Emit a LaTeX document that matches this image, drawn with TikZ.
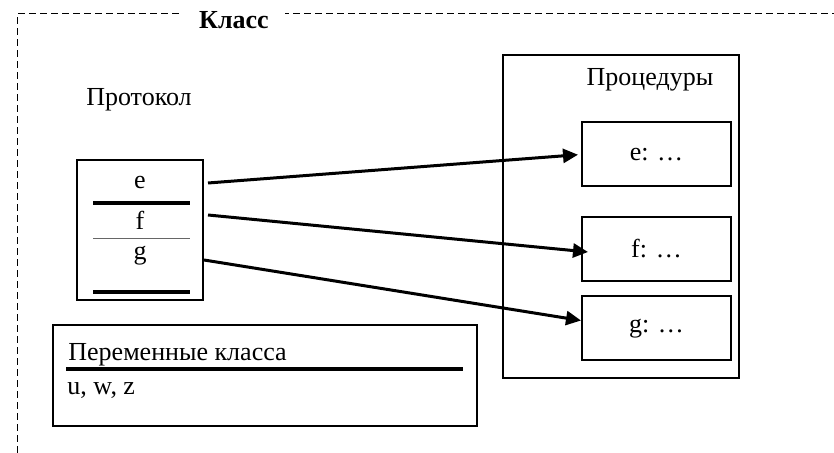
\documentclass[tikz,border=0pt]{standalone}
\usepackage{fontspec}
\setmainfont{Liberation Serif}
\usepackage{tikz}
\usetikzlibrary{positioning,calc,arrows.meta}

\begin{document}
\fontsize{13}{15.6}\selectfont
\begin{tikzpicture}[x=0.5pt,y=-0.5pt,
  box/.style={draw,line width=1pt,rectangle,inner sep=0pt},
  procbox/.style={box,minimum width=74.5pt,minimum height=32pt},
  thickbar/.style={line width=2pt},
  thinbar/.style={line width=0.4pt,black!60},
  link/.style={-{Triangle[length=7.5pt,width=7pt]},line width=1.5pt}]
\useasboundingbox (0,0) rectangle (834,453);
% dashed frame of the class, only top and left side visible
\draw[line width=0.5pt,dash pattern=on 3.5pt off 2pt] (17,453) -- (17,14) -- (834,14);
\node[fill=white,inner xsep=8pt,inner ysep=1pt,font=\bfseries] (cls) at (234,20) {Класс};
% protocol
\node (ptitle) at (139,100) {Протокол};
\node[box,minimum width=63pt,minimum height=70pt] (proto) at (140,230) {};
\node (le) at (140,183) {e};
\node (lf) at (140,220) {f};
\node (lg) at (140,256) {g};
\draw[thickbar] (93,203) -- (190,203);
\draw[thinbar] (93,238) -- (190,238);
\draw[thickbar] (93,292) -- (190,292);
% procedures
\node[box,minimum width=118pt,minimum height=161.5pt] (procs) at (621,216.5) {};
\node (qtitle) at (650,80) {Процедуры};
\node[procbox] (pe) at (656.5,154.5) {e: \dots};
\node[procbox] (pf) at (656.5,249) {f: \dots};
\node[procbox] (pg) at (656.5,328.5) {g: \dots};
% class variables
\node[box,minimum width=212pt,minimum height=50.5pt] (vars) at (265,375.5) {};
\node[anchor=west,inner sep=0pt] (vtitle) at (68,355) {Переменные класса};
\node[anchor=west,inner sep=0pt] (vlist) at (67,391) {u, w, z};
\draw[thickbar] (66,369) -- (463,369);
% the arrows
\draw[link,shorten >=1.5pt] ([xshift=2pt]proto.east |- le.center) -- (pe.west);
\draw[link] ([xshift=2pt,yshift=2.5pt]proto.east |- lf.center) -- ([xshift=3.5pt,yshift=-1.5pt]pf.west);
\draw[link] ([yshift=-2pt]proto.east |- lg.center) -- ([yshift=4pt]pg.west);
\end{tikzpicture}
\end{document}
